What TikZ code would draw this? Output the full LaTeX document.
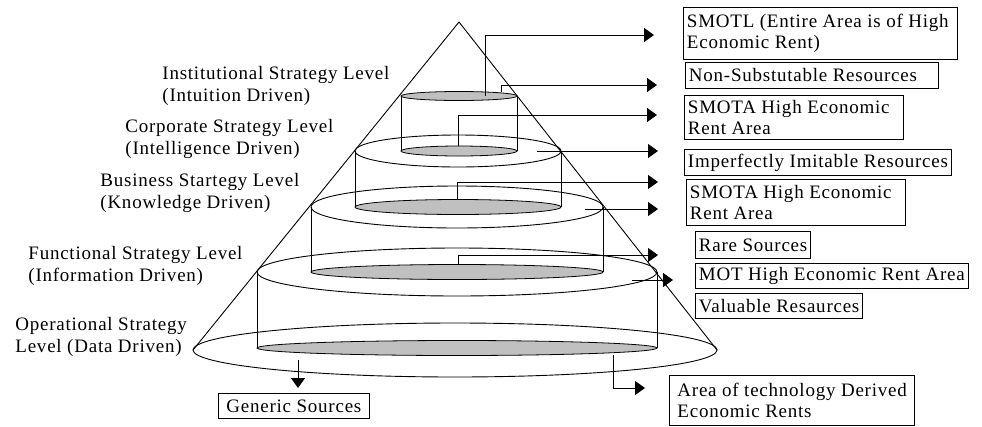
\documentclass[tikz,border=0pt]{standalone}
\usepackage{fontspec}
\setmainfont{Liberation Serif}[LetterSpace=4]
\usetikzlibrary{arrows.meta}
\definecolor{discgray}{RGB}{192,192,192}
\begin{document}
\begin{tikzpicture}[x=1pt,y=-1pt,line width=0.9pt,
  txt/.style={font=\fontsize{19}{21.5}\selectfont},
  lbl/.style={txt, anchor=north west, inner sep=0pt, align=left},
  rbox/.style={txt, draw, anchor=north west, inner xsep=3.5pt, inner ysep=1.5pt, align=left, minimum height=26pt},
  disc/.style={draw=black, fill=discgray, line width=0.8pt},
  conn/.style={draw=black, -{Triangle[length=10pt,width=14pt]}},
]
\useasboundingbox (0,0) rectangle (982,426);

% cone outline
\coordinate (apex) at (459,22);
\coordinate (bl) at (193,350);
\coordinate (br) at (717,350);
\draw (bl) -- (apex) -- (br);

% level rims
\draw (458,151) ellipse [x radius=103pt, y radius=16pt];
\draw (457,207) ellipse [x radius=146pt, y radius=21pt];
\draw (457,272) ellipse [x radius=200pt, y radius=24pt];
\draw (455,350) ellipse [x radius=262pt, y radius=27pt];

% cylinder sides
\draw (401,96) -- (401,151);
\draw (517,96) -- (517,151);
\draw (355,151) -- (355,207);
\draw (561,151) -- (561,207);
\draw (311,207) -- (311,272);
\draw (603,207) -- (603,272);
\draw (257,272) -- (257,348);
\draw (657,272) -- (657,348);

% grey discs
\draw[disc] (459,96) ellipse [x radius=58pt, y radius=4.5pt];
\draw[disc] (459,151) ellipse [x radius=58pt, y radius=5pt];
\draw[disc] (458,207) ellipse [x radius=103pt, y radius=7.5pt];
\draw[disc] (457,272) ellipse [x radius=146pt, y radius=7.5pt];
\draw[disc] (457,348) ellipse [x radius=200pt, y radius=7.5pt];

% connector coordinates
\coordinate (s1) at (485,96);   \coordinate (e1) at (654,35);
\coordinate (s2) at (501,92);   \coordinate (e2) at (657,85);
\coordinate (s3) at (458,146);  \coordinate (e3) at (657,115);
\coordinate (s4) at (537,151);  \coordinate (e4) at (658,151);
\coordinate (s5) at (457,200);  \coordinate (e5) at (658,182);
\coordinate (s6) at (585,209);  \coordinate (e6) at (658,209);
\coordinate (s7) at (458,265);  \coordinate (e7) at (658,255);
\coordinate (s8) at (632,280);  \coordinate (e8) at (673,280);
\coordinate (s9) at (298,360);  \coordinate (e9) at (298,388);
\coordinate (s10) at (613,355); \coordinate (e10) at (645,388);

\draw[conn] (s1) |- (e1);
\draw[conn] (s2) |- (e2);
\draw[conn] (s3) |- (e3);
\draw[conn] (s4) -- (e4);
\draw[conn] (s5) |- (e5);
\draw[conn] (s6) -- (e6);
\draw[conn] (s7) |- (e7);
\draw[conn] (s8) -- (e8);
\draw[conn] (s9) -- (e9);
\draw[conn] (s10) |- (e10);

% left labels
\node[lbl] (l1) at (162,66) {Institutional Strategy Level\\(Intuition Driven)};
\node[lbl] (l2) at (125,119) {Corporate Strategy Level\\(Intelligence Driven)};
\node[lbl] (l3) at (100,173) {Business Startegy Level\\(Knowledge Driven)};
\node[lbl] (l4) at (28,246) {Functional Strategy Level\\(Information Driven)};
\node[lbl] (l5) at (15,317) {Operational Strategy\\Level (Data Driven)};

% right boxes
\node[rbox, minimum height=52pt] (b1) at (683,7) {\makebox[267pt][l]{SMOTL (Entire Area is of High}\\Economic Rent)};
\node[rbox] (b2) at (685,62) {\makebox[246pt][l]{Non-Substutable Resources}};
\node[rbox, minimum height=44pt] (b3) at (684,95) {\makebox[212pt][l]{SMOTA High Economic}\\Rent Area};
\node[rbox] (b4) at (684,149) {Imperfectly Imitable Resources};
\node[rbox, minimum height=46pt] (b5) at (686,179) {\makebox[212pt][l]{SMOTA High Economic}\\Rent Area};
\node[rbox, minimum height=27pt] (b6) at (695,231) {Rare Sources};
\node[rbox, minimum height=25pt] (b7) at (695,263) {MOT High Economic Rent Area};
\node[rbox, minimum height=25pt] (b8) at (695,293) {Valuable Resaurces};
\node[rbox, minimum height=50pt, inner xsep=8pt] (b9) at (669,375) {Area of technology Derived\\Economic Rents};
\node[rbox, minimum height=25pt, inner xsep=8pt] (b10) at (218,393) {Generic Sources};
\end{tikzpicture}
\end{document}
